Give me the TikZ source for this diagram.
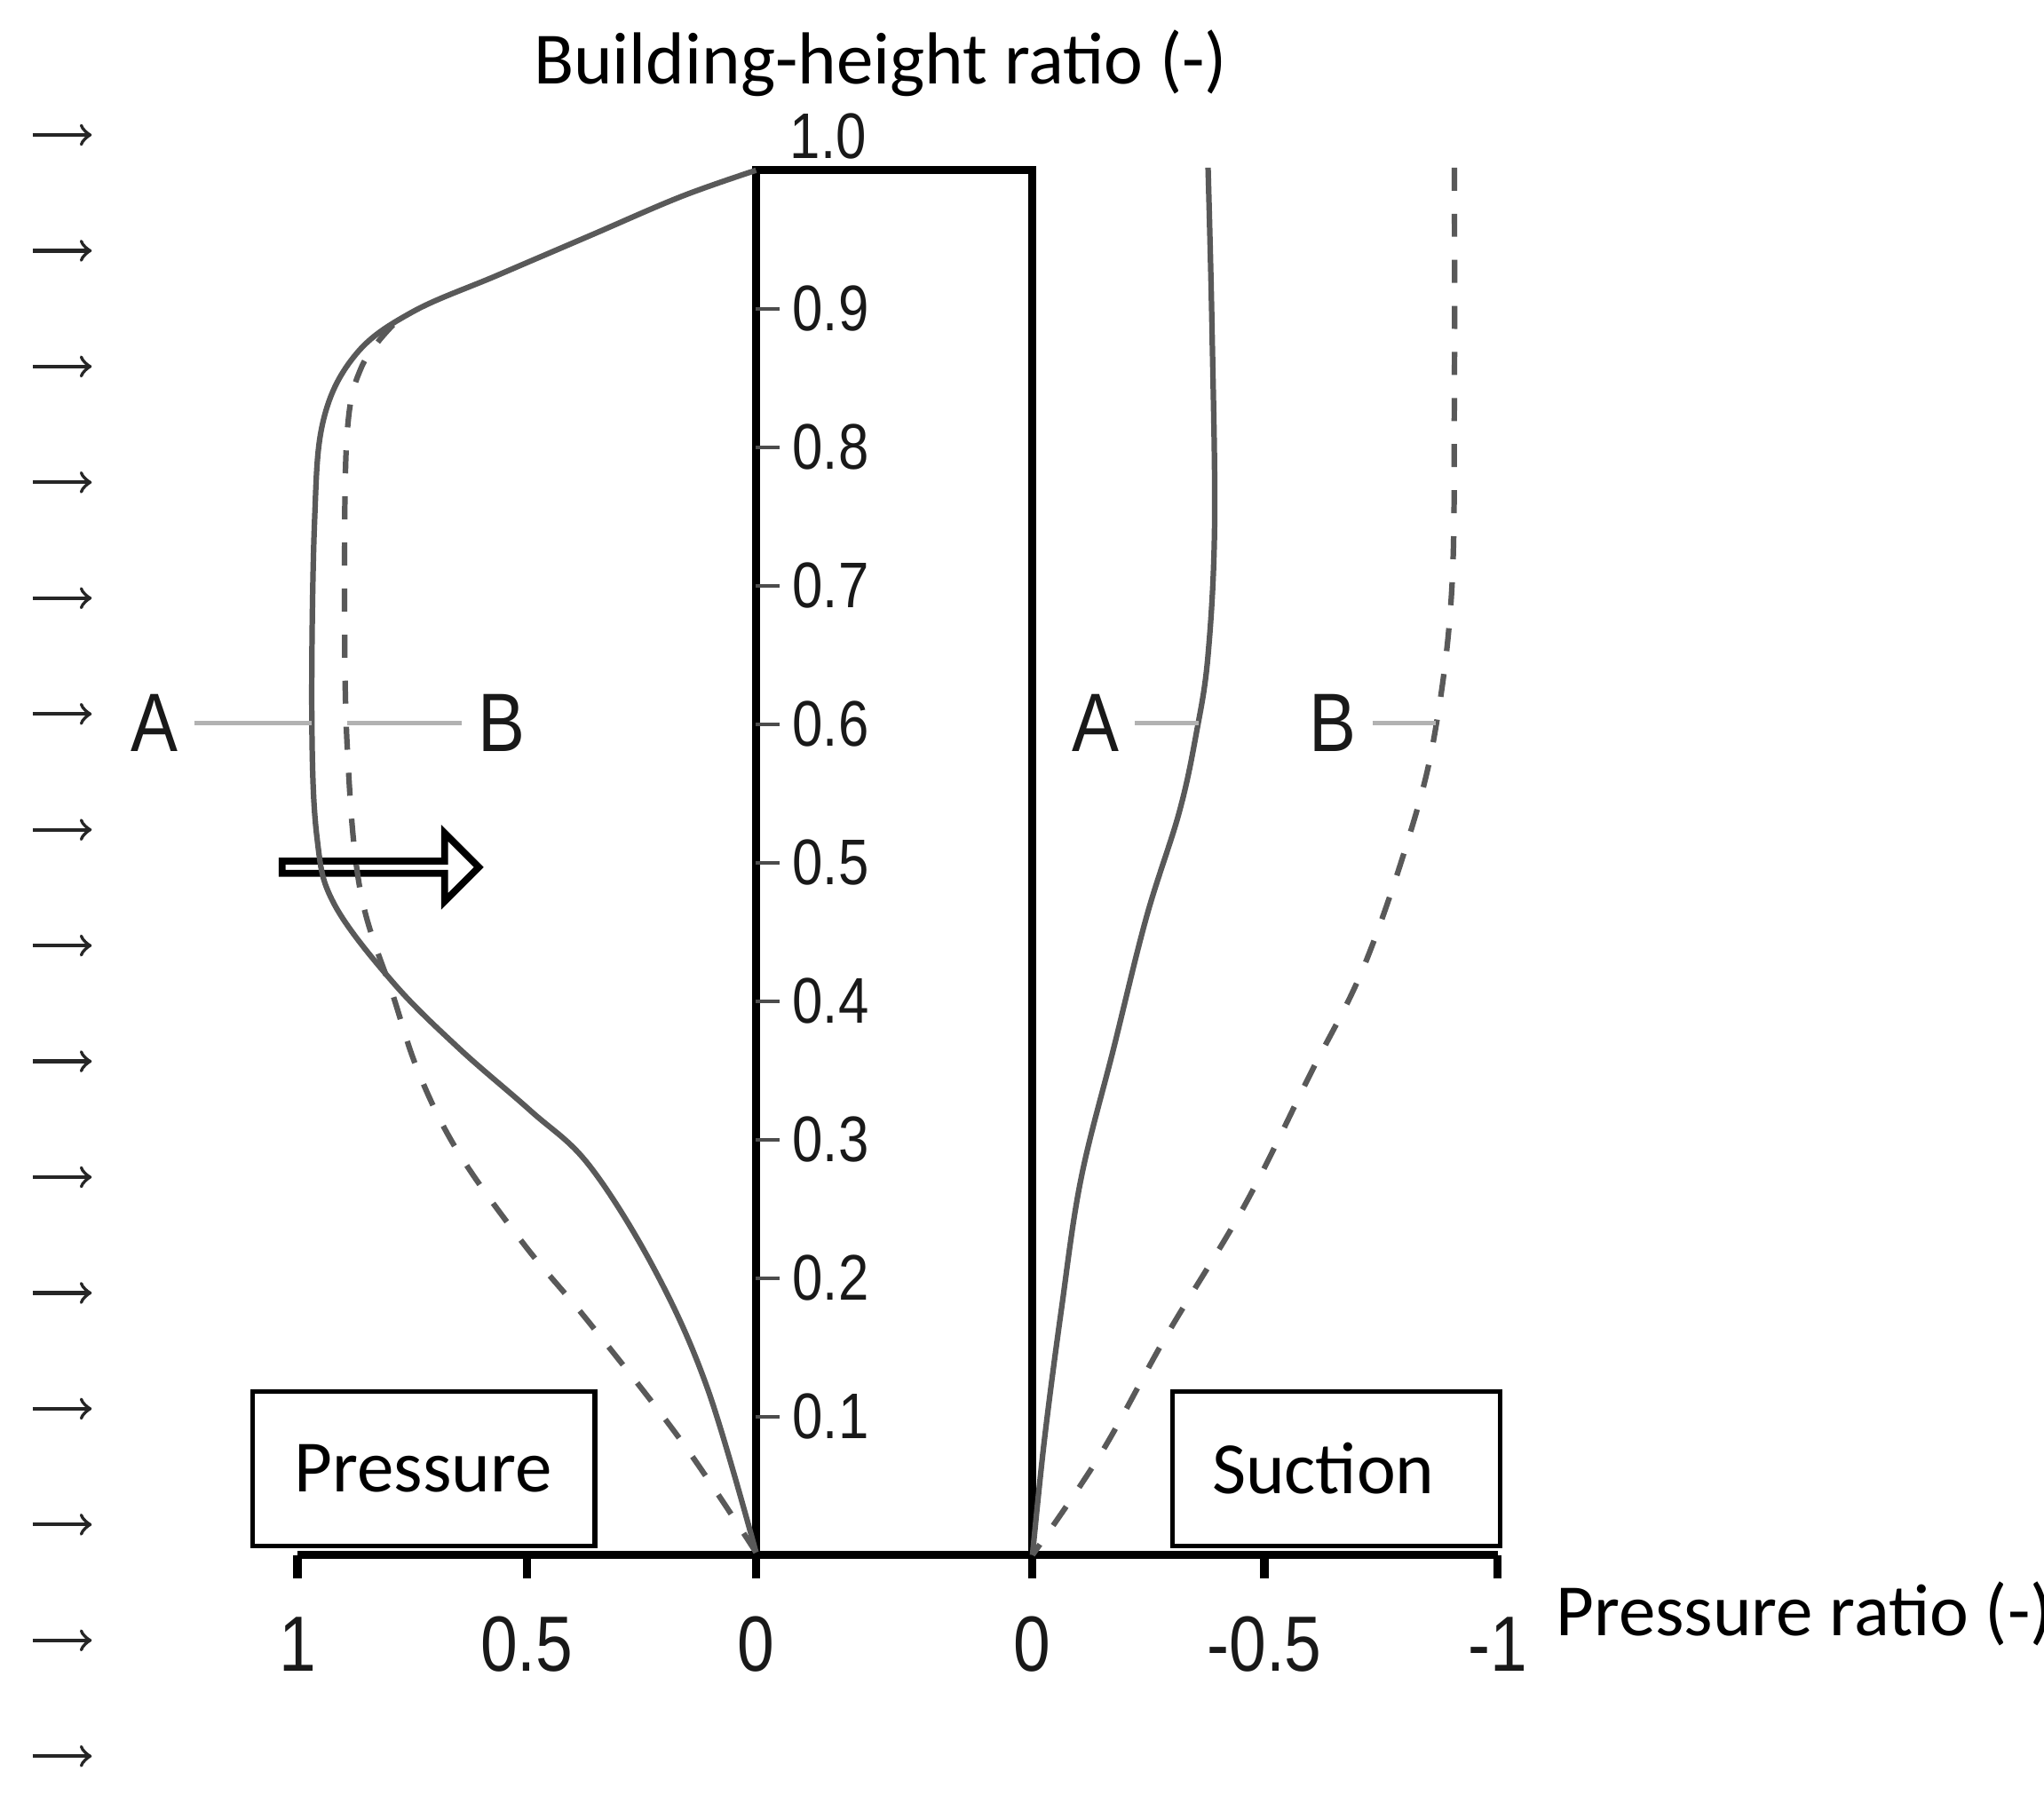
\documentclass[tikz,border=0pt]{standalone}
\usepackage{fontspec}
\setmainfont{Carlito}
\newfontfamily\numfont{Liberation Sans}[FakeStretch=0.85]
\usetikzlibrary{shapes.arrows}
\tikzset{
  curve/.style={gray!70!black, line width=1.2pt},
  dcurve/.style={gray!70!black, line width=1.2pt, dash pattern=on 5pt off 5pt},
  windarrow/.style={->, gray!30!black, line width=0.8pt},
  numlbl/.style={font=\numfont\fontsize{14}{14}\selectfont, gray!20!black},
  ttl/.style={font=\fontsize{16}{16}\selectfont},
  letter/.style={font=\numfont\fontsize{18}{18}\selectfont, gray!20!black},
  leader/.style={gray!60, line width=1pt}
}
\begin{document}
\begin{tikzpicture}[x=0.01cm, y=-0.01cm]
  \useasboundingbox (0,0) rectangle (1560,1370);
  % building and axis
  \draw[line width=1.8pt] (577,130) rectangle (788,1187);
  \draw[line width=1.8pt] (227,1187) -- (1143,1187);
  \foreach \x/\t in {227/1, 402/0.5, 577/0, 788/0, 965/-0.5, 1143/-1}{
    \draw[line width=1.8pt] (\x,1187) -- (\x,1205);
    \node[numlbl, font=\numfont\fontsize{17}{17}\selectfont] (x\x) at (\x,1255) {\t};
  }
  \node[ttl, anchor=west] (xlabel) at (1175,1232) {Pressure ratio (-)};
  \node[ttl] (ylabel) at (672,48) {Building-height ratio (-)};
  \node[numlbl] (h10) at (632,104) {1.0};
  \foreach \i in {1,...,9}{
    \pgfmathsetmacro{\yy}{1187-\i*105.7}
    \draw[gray!60!black, line width=0.8pt] (577,\yy) -- (595,\yy);
    \node[numlbl] (h\i) at (634,\yy) {0.\i};
  }
  % wind arrows
  \foreach \i in {0,...,14}{
    \pgfmathsetmacro{\yy}{103+\i*88.4}
    \draw[windarrow] (25,\yy) -- (70,\yy);
  }
  % boxes
  \draw[line width=1pt] (193,1062) rectangle (454,1180);
  \node[ttl] (press) at (323,1121) {Pressure};
  \draw[line width=1pt] (895,1062) rectangle (1145,1180);
  \node[ttl] (suct) at (1010,1121) {Suction};
  % big hollow arrow
  \node[single arrow, draw, line width=1.5pt, fill=white, minimum height=1.5cm,
    minimum width=0.52cm, single arrow head extend=0.12cm, inner sep=0pt] (wind) at (288,662) {};
  % curves
  \draw[curve] plot[smooth, tension=0.6] coordinates {(577,130) (520,150) (450,180) (380,210)
    (315,238) (272,270) (247,320) (240,400) (238,550) (242,640) (255,690) (300,750)
    (350,800) (405,848) (450,890) (500,970) (540,1060) (577,1185)};
  \draw[dcurve] plot[smooth, tension=0.6] coordinates {(300,248) (276,280) (265,330) (263,450)
    (265,570) (275,680) (300,760) (320,820) (350,880) (400,950) (450,1010) (520,1100) (577,1185)};
  \draw[curve] plot[smooth, tension=0.6] coordinates {(922,128) (925,250) (927,400) (922,500)
    (913,560) (900,620) (875,700) (850,800) (825,900) (810,1000) (797,1100) (788,1187)};
  \draw[dcurve] plot[smooth, tension=0.6] coordinates {(1110,128) (1110,300) (1108,450) (1095,560)
    (1075,640) (1040,740) (1000,820) (950,920) (890,1020) (840,1110) (788,1187)};
  % labels
  \node[letter] (lA) at (118,552) {A};
  \node[letter] (lB) at (383,552) {B};
  \node[letter] (rA) at (836,552) {A};
  \node[letter] (rB) at (1017,552) {B};
  \coordinate (lAe) at (238,552);
  \coordinate (lBe) at (265,552);
  \coordinate (rAe) at (915,552);
  \coordinate (rBe) at (1096,552);
  \draw[leader] (lA.east) -- (lAe);
  \draw[leader] (lB.west) -- (lBe);
  \draw[leader] (rA.east) -- (rAe);
  \draw[leader] (rB.east) -- (rBe);
\end{tikzpicture}
\end{document}
